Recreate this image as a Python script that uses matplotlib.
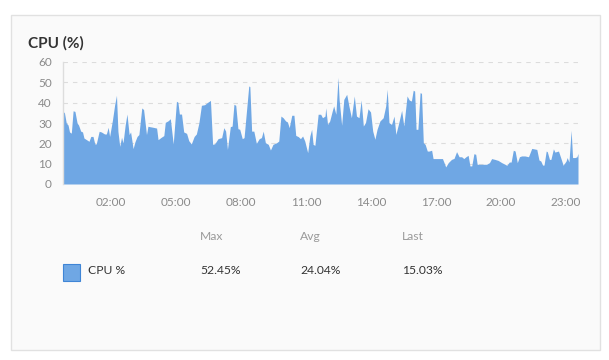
import matplotlib
matplotlib.use('Agg')
import matplotlib.pyplot as plt
from matplotlib.patches import Rectangle

plt.rcParams['font.family'] = ['Lato', 'DejaVu Sans']

# minutes since midnight / CPU %
minutes = [-12, -8, -3, 2, 6, 11, 16, 21, 27, 31, 37, 42, 46, 53, 60, 65, 71, 76, 80, 88,
           94, 103, 108, 113, 117, 125, 131, 136, 140, 145, 150, 154, 160, 165, 171, 175, 182, 187, 193, 198,
           206, 211, 219, 223, 228, 237, 247, 251, 260, 267, 271, 279, 285, 293, 302, 306, 310, 316, 322, 330,
           336, 343, 351, 357, 364, 371, 380, 387, 396, 402, 408, 417, 427, 433, 438, 443, 451, 456, 461, 466,
           472, 477, 484, 489, 502, 505, 510, 516, 523, 531, 537, 542, 548, 556, 562, 569, 579, 585, 591, 597,
           604, 609, 614, 621, 627, 632, 639, 645, 651, 657, 665, 671, 676, 680, 685, 694, 701, 706, 713, 715,
           720, 726, 733, 737, 743, 749, 752, 759, 765, 773, 779, 786, 794, 800, 807, 813, 819, 825, 832, 839,
           845, 851, 857, 865, 874, 881, 885, 890, 897, 904, 909, 916, 925, 931, 940, 946, 952, 957, 961, 965,
           970, 976, 980, 985, 990, 996, 1001, 1008, 1012, 1022, 1031, 1038, 1047, 1054, 1063, 1070, 1077, 1084, 1091, 1097,
           1103, 1109, 1114, 1119, 1125, 1130, 1134, 1146, 1160, 1168, 1174, 1183, 1192, 1202, 1211, 1216, 1223, 1228, 1234, 1239,
           1245, 1251, 1257, 1266, 1276, 1285, 1291, 1299, 1305, 1310, 1315, 1319, 1325, 1328, 1334, 1338, 1345, 1349, 1359, 1365,
           1372, 1380, 1383, 1388, 1394, 1398, 1405, 1410, 1413]
cpu = [35.7, 35.0, 30.0, 29.0, 25.6, 25.0, 36.0, 35.7, 30.0, 29.0, 26.0, 25.6, 22.6, 21.8, 21.0, 23.4, 23.4, 19.7, 19.7, 25.9,
       25.6, 24.6, 24.6, 27.9, 23.4, 31.6, 39.0, 43.6, 25.9, 18.5, 23.0, 20.2, 28.9, 34.4, 24.3, 25.6, 17.4, 20.7, 23.4, 24.3,
       37.4, 36.6, 24.3, 28.4, 28.2, 27.9, 27.5, 21.8, 23.0, 23.8, 30.3, 31.1, 32.1, 19.7, 40.7, 40.2, 34.4, 34.4, 25.6, 24.9,
       21.3, 19.7, 23.4, 24.6, 30.0, 38.7, 39.0, 40.0, 41.1, 19.5, 19.8, 22.3, 22.8, 27.7, 26.0, 17.0, 28.2, 28.5, 39.2, 38.7,
       27.2, 26.9, 22.3, 22.8, 48.2, 47.9, 26.0, 26.0, 20.0, 22.3, 22.8, 26.0, 20.3, 19.5, 16.7, 19.5, 20.3, 21.1, 33.4, 32.6,
       31.0, 30.5, 27.7, 33.8, 33.8, 23.9, 23.3, 22.3, 23.6, 21.1, 15.4, 23.6, 26.9, 19.5, 19.0, 34.3, 34.3, 32.6, 33.4, 37.5,
       29.3, 31.0, 35.9, 38.4, 34.3, 52.45, 41.6, 28.9, 41.6, 44.1, 38.4, 32.6, 43.3, 33.4, 32.6, 41.3, 28.5, 30.2, 37.0, 35.4,
       26.0, 22.0, 26.9, 31.0, 32.6, 38.4, 46.6, 30.2, 29.3, 33.4, 24.4, 29.3, 36.2, 28.5, 43.3, 41.3, 40.8, 46.1, 45.7, 26.9,
       26.9, 44.9, 44.6, 20.3, 19.5, 16.2, 16.2, 16.6, 12.5, 12.5, 12.5, 12.5, 8.4, 10.5, 12.1, 12.6, 15.9, 13.4, 13.4, 12.5,
       13.4, 14.1, 8.9, 8.9, 14.9, 14.6, 9.7, 9.7, 9.7, 10.5, 12.5, 12.1, 11.6, 10.5, 9.7, 9.2, 10.8, 10.8, 16.6, 16.2,
       10.5, 13.4, 13.8, 13.8, 13.4, 17.5, 17.3, 17.0, 11.8, 11.3, 9.3, 9.3, 16.2, 15.9, 12.1, 12.1, 17.3, 15.7, 16.2, 13.0,
       9.2, 11.3, 13.0, 10.8, 26.4, 13.0, 13.0, 13.4, 15.03]

tick_minutes = [120, 300, 480, 660, 840, 1020, 1200, 1380]
tick_labels = ['02:00', '05:00', '08:00', '11:00', '14:00', '17:00', '20:00', '23:00']
y_ticks = [0, 10, 20, 30, 40, 50, 60]

series_name = 'CPU %'
stat_names = ['Max', 'Avg', 'Last']
stat_values = ['52.45%', '24.04%', '15.03%']

W, H = 609, 360
fig = plt.figure(figsize=(W / 100, H / 100), dpi=100)
fig.patch.set_facecolor('white')


def fx(px):
    return px / W


def fy(py):
    return 1 - py / H


# card background
card = Rectangle((fx(10.5), fy(349.5)), fx(589.5), (349.5 - 14.5) / H, transform=fig.transFigure,
                 facecolor='#fafafa', edgecolor='#e1e1e1', lw=1, zorder=-1)
fig.patches.append(card)

fig.text(fx(28), fy(43), 'CPU (%)', fontsize=11, fontweight='bold', color='#333333', va='center', ha='left')

ax = fig.add_axes([fx(63), fy(184), fx(578 - 63), (184 - 62) / H])
ax.set_facecolor('none')
ax.fill_between(minutes, cpu, 0, color='#6fa7e4', lw=0, zorder=2)
ax.set_xlim(minutes[0], minutes[-1])
ax.set_ylim(0, 60)
ax.set_yticks(y_ticks)
ax.set_xticks(tick_minutes)
ax.set_xticklabels(tick_labels)
ax.yaxis.grid(True, linestyle=(0, (4, 4.5)), color='#dcdcdc', lw=0.8, zorder=0)
ax.set_axisbelow(True)
for s in ['top', 'right', 'bottom']:
    ax.spines[s].set_visible(False)
ax.spines['left'].set_color('#dddddd')
ax.spines['left'].set_linewidth(1)
ax.tick_params(length=0, labelsize=8.5, labelcolor='#8a8a8a')
ax.tick_params(axis='y', pad=8)
ax.tick_params(axis='x', pad=9)

# legend table
col_x = [200, 300, 402]
for x, name, val in zip(col_x, stat_names, stat_values):
    fig.text(fx(x), fy(237), name, fontsize=8.7, color='#9a9a9a', va='center', ha='left')
    fig.text(fx(x), fy(271), val, fontsize=8.7, color='#333333', va='center', ha='left')

sq = Rectangle((fx(62.5), fy(280.5)), fx(17), 17 / H, transform=fig.transFigure,
               facecolor='#6fa7e4', edgecolor='#3f85d6', lw=0.8)
fig.patches.append(sq)
fig.text(fx(88), fy(271), series_name, fontsize=8.7, color='#333333', va='center', ha='left')

fig.savefig('out.png', dpi=100)
